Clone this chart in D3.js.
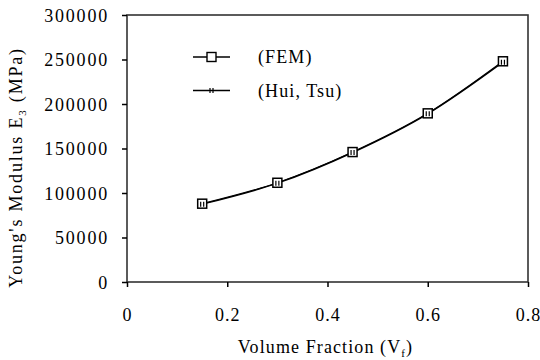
<!DOCTYPE html>
<html>
<head>
<meta charset="utf-8">
<script src="https://cdn.jsdelivr.net/npm/d3@7"></script>
<style>
	body { margin: 0; background: #fff; }
	text { font-family: "Liberation Serif", "Times New Roman", serif; }
</style>
</head>
<body>
<div id="my_dataviz"></div>
<script>
// data
var volumeFraction = [0.15, 0.3, 0.45, 0.6, 0.75];
var femValues = [88000, 111500, 146000, 189500, 248000];
var huiTsuValues = [87500, 111000, 145500, 189000, 247000];
var xTicks = [0, 0.2, 0.4, 0.6, 0.8];
var yTicks = [0, 50000, 100000, 150000, 200000, 250000, 300000];
var seriesNames = ["(FEM)", "(Hui, Tsu)"];

var svgWidth = 540, svgHeight = 360;
var margin = {top: 15, right: 12, bottom: 78, left: 127};
var width = svgWidth - margin.left - margin.right;
var height = svgHeight - margin.top - margin.bottom;

var svg = d3.select("#my_dataviz")
	.append("svg")
		.attr("width", svgWidth)
		.attr("height", svgHeight)
	.append("g")
		.attr("transform", "translate(" + margin.left + "," + margin.top + ")");

var x = d3.scaleLinear().domain([0, 0.8]).range([0, width]);
var y = d3.scaleLinear().domain([0, 300000]).range([height, 0]);

// frame
svg.append("rect")
	.attr("x", 0).attr("y", 0)
	.attr("width", width).attr("height", height)
	.style("fill", "none")
	.attr("stroke", "#333")
	.style("stroke-width", 1.6);

var xAxis = svg.append("g")
	.attr("transform", "translate(0," + height + ")")
	.call(d3.axisBottom(x).tickValues(xTicks).tickSize(5).tickPadding(21)
		.tickFormat(function(d){ return d === 0 ? "0" : d3.format(".1f")(d); }));

var yAxis = svg.append("g")
	.call(d3.axisLeft(y).tickValues(yTicks).tickSize(5).tickPadding(13)
		.tickFormat(d3.format("d")));

[xAxis, yAxis].forEach(function(a){
	a.attr("font-family", null).attr("font-size", 18);
	a.select(".domain").remove();
	a.selectAll(".tick line").attr("stroke", "#000").style("stroke-width", 1.5);
	a.selectAll(".tick text").attr("fill", "#000");
});
xAxis.selectAll(".tick text").style("letter-spacing", "1px");
yAxis.selectAll(".tick text").attr("dy", "0.35em").style("letter-spacing", "1.8px");

// axis titles
svg.append("text")
	.attr("x", width / 2 - 2)
	.attr("y", height + 71)
	.style("text-anchor", "middle")
	.style("font-size", "18px")
	.style("letter-spacing", "1.1px")
	.html('Volume Fraction (V<tspan dy="4" style="font-size:11px">f</tspan><tspan dy="-4">)</tspan>');

svg.append("text")
	.attr("transform", "translate(" + (-105) + "," + (height / 2 + 19) + ")rotate(-90)")
	.style("text-anchor", "middle")
	.style("font-size", "18px")
	.style("letter-spacing", "1.8px")
	.html('Young\'s Modulus E<tspan dy="4" style="font-size:11px">3</tspan><tspan dy="-4"> (MPa)</tspan>');

var line = d3.line()
	.x(function(d, i){ return x(volumeFraction[i]); })
	.y(function(d){ return y(d); })
	.curve(d3.curveMonotoneX);

// Hui-Tsu curve
svg.append("path")
	.datum(huiTsuValues)
	.attr("d", line)
	.style("fill", "none")
	.attr("stroke", "#000")
	.style("stroke-width", 1.4);

// FEM curve
svg.append("path")
	.datum(femValues)
	.attr("d", line)
	.style("fill", "none")
	.attr("stroke", "#000")
	.style("stroke-width", 1.2);

// FEM squares
svg.selectAll("femmarks")
	.data(femValues)
	.enter()
	.append("rect")
	.attr("x", function(d, i){ return x(volumeFraction[i]) - 4.5; })
	.attr("y", function(d){ return y(d) - 4.5; })
	.attr("width", 9).attr("height", 9)
	.style("fill", "#fff")
	.attr("stroke", "#000")
	.style("stroke-width", 1.5);

// Hui-Tsu tick marks
svg.selectAll("htmarks")
	.data(huiTsuValues)
	.enter()
	.append("path")
	.attr("d", function(d, i){
		var cx = x(volumeFraction[i]), cy = y(d);
		return "M" + (cx - 1.5) + "," + (cy - 2.5) + "V" + (cy + 2.5) + "M" + (cx + 1.5) + "," + (cy - 2.5) + "V" + (cy + 2.5);
	})
	.attr("stroke", "#000")
	.style("stroke-width", 1.2);

// legend
var legend = svg.selectAll("mylegend")
	.data(seriesNames)
	.enter()
	.append("g")
	.attr("transform", function(d, i){ return "translate(66," + (42 + i * 33.5) + ")"; });

legend.append("line")
	.attr("x1", 0).attr("x2", 37)
	.attr("stroke", "#000")
	.style("stroke-width", 1.4);

legend.filter(function(d, i){ return i === 0; })
	.append("rect")
	.attr("x", 14).attr("y", -4.5)
	.attr("width", 9).attr("height", 9)
	.style("fill", "#fff")
	.attr("stroke", "#000")
	.style("stroke-width", 1.4);

legend.filter(function(d, i){ return i === 1; })
	.append("path")
	.attr("d", "M17,-2.5V2.5M20,-2.5V2.5")
	.attr("stroke", "#000")
	.style("stroke-width", 1.2);

legend.append("text")
	.attr("x", 65)
	.attr("dy", "0.35em")
	.style("font-size", "18px")
	.style("letter-spacing", "1.1px")
	.text(function(d){ return d; });
</script>
</body>
</html>
